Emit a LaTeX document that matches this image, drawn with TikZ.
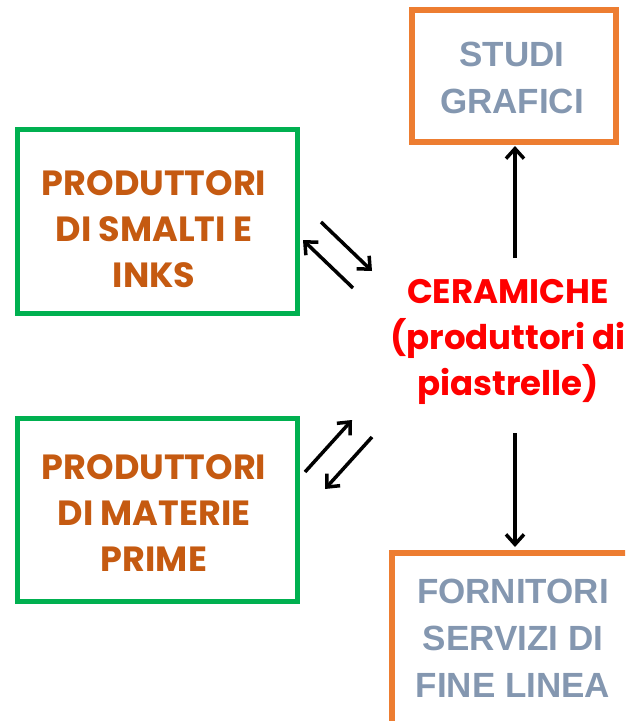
\documentclass[tikz,border=0pt]{standalone}
\usepackage{fontspec}
\setmainfont{Poppins}
\newfontfamily\arialf{Liberation Sans}
\usetikzlibrary{arrows.meta}
\definecolor{grn}{HTML}{00B050}
\definecolor{org}{HTML}{ED7D31}
\definecolor{brn}{HTML}{C55A11}
\definecolor{gblue}{HTML}{8497B0}
\definecolor{rd}{HTML}{FF0000}
\tikzset{
  x=1pt, y=-1pt,
  greenbox/.style={draw=grn, line width=5pt},
  orangebox/.style={draw=org, line width=5.5pt},
  brntext/.style={text=brn, font=\bfseries\fontsize{35}{46}\selectfont, align=center},
  graytext/.style={text=gblue, font=\arialf\bfseries\fontsize{35}{47}\selectfont, align=center},
  redtext/.style={text=rd, font=\bfseries\fontsize{34}{46}\selectfont, align=center},
  arr/.style={draw=black, line width=3.5pt, -{Straight Barb[length=10pt,width=18pt,line width=3.5pt]}}
}
\begin{document}
\begin{tikzpicture}
\useasboundingbox (0,0) rectangle (625,721);
\clip (0,0) rectangle (625,721);
% boxes
\draw[greenbox] (17,129) rectangle (297,313);
\draw[greenbox] (17,418) rectangle (297,601);
\draw[orangebox] (412,10) rectangle (616,142);
\draw[orangebox] (392,553) rectangle (640,740);
% texts
\node[brntext] (smalti) at (154,229) {PRODUTTORI\\DI SMALTI E\\INKS};
\node[brntext] (materie) at (154,513) {PRODUTTORI\\DI MATERIE\\PRIME};
\node[graytext] (studi) at (512,78) {STUDI\\GRAFICI};
\node[graytext] (fornitori) at (513,638) {FORNITORI\\SERVIZI DI\\FINE LINEA};
\node[redtext] (cer) at (508,342) {CERAMICHE\\(produttori di\\piastrelle)};
% connector anchors
\coordinate (cu) at (515,258);
\coordinate (su) at (515,146);
\coordinate (cd) at (515,433);
\coordinate (fd) at (515,547);
\coordinate (a1t) at (353,288); \coordinate (a1h) at (303,240);
\coordinate (a2t) at (321,222); \coordinate (a2h) at (372,271);
\coordinate (b1t) at (305,472); \coordinate (b1h) at (352,420);
\coordinate (b2t) at (372,437); \coordinate (b2h) at (325,489);
\draw[arr] (cu) -- (su);
\draw[arr] (cd) -- (fd);
\draw[arr] (a1t) -- (a1h);
\draw[arr] (a2t) -- (a2h);
\draw[arr] (b1t) -- (b1h);
\draw[arr] (b2t) -- (b2h);
\end{tikzpicture}
\end{document}
